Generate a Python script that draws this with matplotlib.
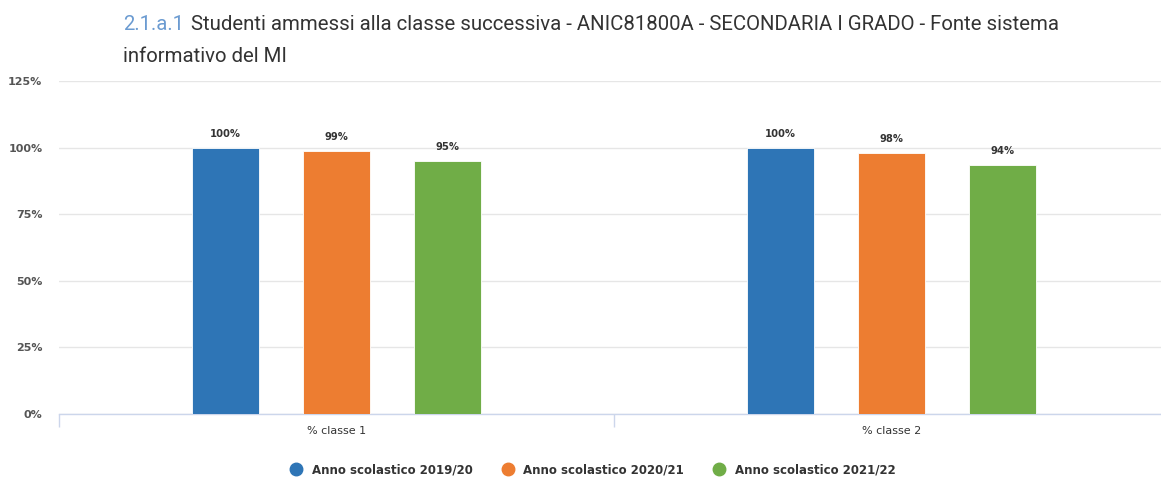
import matplotlib
matplotlib.use("Agg")
import matplotlib.pyplot as plt
import numpy as np

categories = ["% classe 1", "% classe 2"]
series_names = ["Anno scolastico 2019/20", "Anno scolastico 2020/21", "Anno scolastico 2021/22"]
values_2019 = [100.0, 100.0]
values_2020 = [98.9, 98.1]
values_2021 = [95.1, 93.6]
series_values = [values_2019, values_2020, values_2021]
colors = ["#2e75b6", "#ed7d31", "#70ad47"]
y_ticks = [0, 25, 50, 75, 100, 125]

W, H = 1161, 479
fig = plt.figure(figsize=(W / 100, H / 100), dpi=100)
x0, x1 = 59, 1169
ytop, ybot = 81, 414
ax = fig.add_axes([x0 / W, 1 - ybot / H, (x1 - x0) / W, (ybot - ytop) / H])

x = np.arange(len(categories))
offsets = [-0.2, 0.0, 0.2]
width = 0.12
for vals, off, col, name in zip(series_values, offsets, colors, series_names):
    ax.bar(x + off, vals, width=width, color=col, label=name, zorder=3,
           edgecolor="white", linewidth=0.6)
    for xi, v in zip(x + off, vals):
        ax.annotate(f"{round(v):.0f}%", (xi, v), xytext=(0, 6), textcoords="offset points",
                    ha="center", va="bottom", fontsize=7.2, fontweight="bold", color="#333333",
                    family="DejaVu Sans")

ax.set_xlim(-0.5, len(categories) - 0.5)
ax.set_ylim(0, 125)
ax.set_yticks(y_ticks)
ax.set_yticklabels([f"{t}%" for t in y_ticks], fontsize=8, fontweight="bold", color="#555555")
ax.yaxis.grid(True, color="#e6e6e6", linewidth=1, zorder=0)
ax.tick_params(axis="y", length=0, pad=12)
for s in ["top", "right", "left"]:
    ax.spines[s].set_visible(False)
ax.spines["bottom"].set_color("#ccd6eb")
ax.spines["bottom"].set_linewidth(1)

ax.set_xticks(x)
ax.set_xticklabels(categories, fontsize=8, color="#333333")
ax.tick_params(axis="x", length=0, pad=9)
ax.set_xticks([-0.5, 0.5, 1.5], minor=True)
ax.tick_params(axis="x", which="minor", length=9, color="#ccd6eb", width=1)

handles = [plt.Line2D([], [], marker="o", linestyle="", markersize=9, color=c) for c in colors]
leg = fig.legend(handles, series_names, loc="center", bbox_to_anchor=(590 / W, 1 - 470 / H),
                 ncol=3, frameon=False, handletextpad=0.3, columnspacing=2.0,
                 prop={"weight": "bold", "size": 8.5})
for t in leg.get_texts():
    t.set_color("#333333")

title_font = "Roboto"
fs = 14.65
t1 = fig.text(123 / W, 1 - 24 / H, "2.1.a.1", fontsize=fs, color="#6b9bd1",
              family=title_font, va="center", ha="left")
fig.canvas.draw()
bb = t1.get_window_extent()
fig.text((bb.x1 + 7) / W, 1 - 24 / H,
         "Studenti ammessi alla classe successiva - ANIC81800A - SECONDARIA I GRADO - Fonte sistema",
         fontsize=fs, color="#333333", family=title_font, va="center", ha="left")
fig.text(123 / W, 1 - 57 / H, "informativo del MI", fontsize=fs, color="#333333",
         family=title_font, va="center", ha="left")

fig.savefig("out.png", dpi=100)
